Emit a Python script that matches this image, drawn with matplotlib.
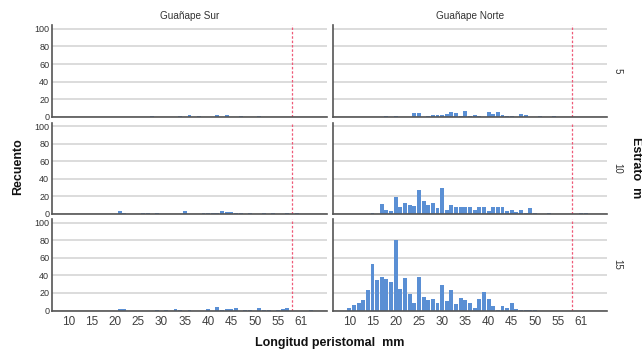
import matplotlib

matplotlib.use("Agg")
import matplotlib.pyplot as plt

plt.rcParams["font.family"] = ["Liberation Sans", "DejaVu Sans"]

# Longitud peristomal (mm), clase de 1 mm, de 10 a 62
longitud_mm = list(range(10, 63))

sitios = ["Guañape Sur", "Guañape Norte"]
estratos = ["5", "10", "15"]

# recuentos por clase, filas de 10 en 10 mm (10-19, 20-29, ..., 60-62)
sur_5 = [
    0, 0, 0, 0, 0, 0, 0, 0, 0, 0,
    0, 0, 0, 0, 0, 0, 0, 0, 1, 0,
    0, 0, 0, 0, 1, 0, 2, 0, 1, 0,
    0, 0, 2, 0, 2, 0, 0, 1, 0, 0,
    0, 1, 0, 0, 0, 0, 0, 0, 0, 0,
    0, 0, 0,
]
norte_5 = [
    0, 0, 0, 0, 0, 0, 0, 0, 1, 0,
    1, 0, 0, 0, 4, 4, 0, 1, 2, 2,
    2, 3, 5, 4, 1, 7, 1, 2, 1, 0,
    5, 3, 5, 2, 1, 1, 0, 3, 2, 0,
    0, 1, 0, 0, 1, 0, 0, 0, 0, 0,
    0, 0, 0,
]
sur_10 = [
    0, 0, 0, 0, 0, 0, 0, 0, 0, 0,
    0, 3, 1, 0, 0, 0, 1, 1, 0, 1,
    0, 0, 0, 0, 0, 3, 0, 0, 0, 1,
    1, 1, 1, 3, 2, 2, 1, 1, 0, 1,
    0, 0, 1, 0, 1, 0, 0, 1, 0, 1,
    0, 0, 0,
]
norte_10 = [
    0, 0, 0, 0, 0, 1, 0, 11, 4, 3,
    19, 8, 12, 10, 9, 27, 14, 10, 12, 6,
    29, 4, 10, 8, 7, 7, 8, 4, 8, 7,
    3, 7, 8, 8, 3, 4, 2, 4, 1, 6,
    1, 0, 0, 1, 0, 0, 0, 0, 0, 0,
    1, 1, 0,
]
sur_15 = [
    0, 0, 0, 0, 0, 0, 0, 0, 0, 0,
    0, 2, 2, 0, 0, 0, 0, 0, 0, 1,
    0, 1, 0, 2, 1, 0, 1, 0, 0, 0,
    2, 0, 4, 1, 2, 2, 3, 0, 1, 1,
    0, 3, 1, 1, 0, 1, 2, 3, 0, 0,
    0, 0, 1,
]
norte_15 = [
    3, 6, 9, 12, 23, 53, 35, 38, 36, 33,
    80, 25, 37, 19, 8, 38, 15, 12, 13, 8,
    29, 11, 23, 7, 14, 12, 9, 3, 13, 21,
    13, 5, 1, 5, 3, 9, 2, 1, 1, 1,
    1, 0, 0, 0, 0, 0, 0, 0, 0, 0,
    0, 0, 0,
]

recuentos = [
    [sur_5, norte_5],
    [sur_10, norte_10],
    [sur_15, norte_15],
]

# talla de referencia (linea roja)
talla_ref_mm = 58

xtick_pos = [10, 15, 20, 25, 30, 35, 40, 45, 50, 55, 60]
xtick_labels = ["10", "15", "20", "25", "30", "35", "40", "45", "50", "55", "61"]
ytick_vals = [0, 20, 40, 60, 80, 100]

BAR_COLOR = "#5a8fd4"
GRID_COLOR = "#d6d6d6"
AXIS_COLOR = "#555555"
TEXT_COLOR = "#333333"

W, H = 642, 353
fig = plt.figure(figsize=(W / 100, H / 100), dpi=100)

col_x = [(52, 327), (333, 607)]
row_y = [(25, 116.7), (122.5, 213.5), (219, 310.5)]

for r, (y0, y1) in enumerate(row_y):
    for c, (x0, x1) in enumerate(col_x):
        ax = fig.add_axes([x0 / W, 1 - y1 / H, (x1 - x0) / W, (y1 - y0) / H])
        ax.bar(longitud_mm, recuentos[r][c], width=0.85, color=BAR_COLOR,
               linewidth=0, zorder=3)
        ax.axvline(talla_ref_mm, color="#ef5a78", linestyle=(0, (2, 1.5)),
                   linewidth=0.9, zorder=4)
        ax.set_xlim(6.5, 65.5)
        ax.set_ylim(0, 104.5)
        ax.set_yticks(ytick_vals)
        ax.yaxis.grid(True, color=GRID_COLOR, linewidth=1.2, zorder=0)
        ax.set_axisbelow(True)
        for side in ("top", "right"):
            ax.spines[side].set_visible(False)
        for side in ("left", "bottom"):
            ax.spines[side].set_color(AXIS_COLOR)
            ax.spines[side].set_linewidth(1.2)
        ax.spines["bottom"].set_zorder(5)
        ax.tick_params(length=0, colors=TEXT_COLOR)
        ax.tick_params(axis="y", labelsize=6.5, pad=2)
        if c == 1:
            ax.set_yticklabels([])
        if r == 2:
            ax.set_xticks(xtick_pos)
            ax.set_xticklabels(xtick_labels)
            ax.tick_params(axis="x", labelsize=8.5, pad=4, colors="#404040")
        else:
            ax.set_xticks(xtick_pos)
            ax.set_xticklabels([])
        if r == 0:
            ax.set_title(sitios[c], fontsize=7.2, color=TEXT_COLOR, pad=4)
        if c == 1:
            ax.text(1.02, 0.5, estratos[r], transform=ax.transAxes, rotation=-90,
                    ha="left", va="center", fontsize=7, color=TEXT_COLOR)

fig.text(18 / W, 1 - 167 / H, "Recuento", rotation=90, ha="center", va="center",
         fontsize=9, fontweight="bold", color="#111111")
fig.text(636 / W, 1 - 168 / H, "Estrato  m", rotation=-90, ha="center", va="center",
         fontsize=9, fontweight="bold", color="#111111")
fig.text(330 / W, 1 - 343 / H, "Longitud peristomal  mm", ha="center", va="center",
         fontsize=9, fontweight="bold", color="#111111")

fig.savefig("out.png", dpi=100)
plt.close(fig)
